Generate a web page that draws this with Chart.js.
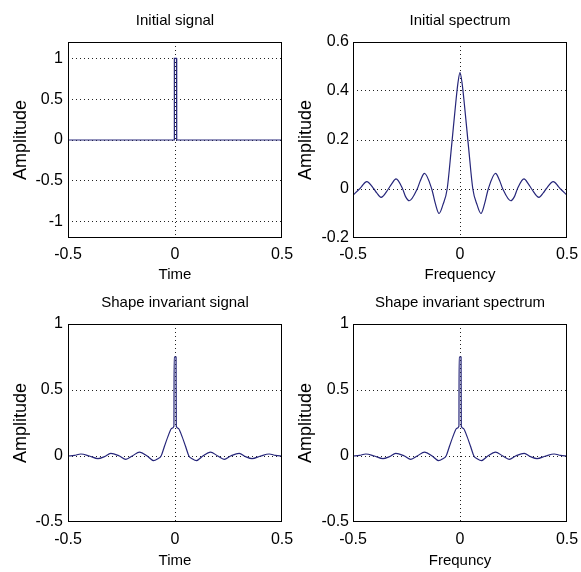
<!DOCTYPE html>
<html>
<head>
<meta charset="utf-8">
<script src="https://cdn.jsdelivr.net/npm/chart.js@4.4.1/dist/chart.umd.min.js"></script>
<style>
html, body { margin: 0; padding: 0; background: #fff; }
#wrap { position: relative; width: 581px; height: 572px; overflow: hidden; }
canvas { position: absolute; }
</style>
</head>
<body>
<div id="wrap">
    <canvas id="c1" width="300" height="290" style="left:0;top:0"></canvas>
    <canvas id="c3" width="300" height="282" style="left:0;top:290px"></canvas>
    <canvas id="c2" width="291" height="290" style="left:290px;top:0"></canvas>
    <canvas id="c4" width="291" height="282" style="left:290px;top:290px"></canvas>
</div>
<script>
// tick labels
const xTicks = [-0.5, 0, 0.5];
const sigYTicks = [-1, -0.5, 0, 0.5, 1];
const specYTicks = [-0.2, 0, 0.2, 0.4, 0.6];
const invYTicks = [-0.5, 0, 0.5, 1];

// initial signal (narrow pulse at 0)
const sigX = [-0.5, -0.004, -0.003, 0.007, 0.008, 0.5];
const sigY = [0, 0, 1, 1, 0, 0];

// initial spectrum
const specX = [-0.5, -0.47, -0.46, -0.436, -0.402, -0.39, -0.369, -0.335, -0.32, -0.299, -0.268, -0.255, -0.237, -0.2, -0.185, -0.166, -0.132, -0.115, -0.098, -0.08, -0.06, -0.04, -0.02, -0.01, 0,
    0.01, 0.02, 0.04, 0.06, 0.08, 0.098, 0.115, 0.132, 0.166, 0.185, 0.2, 0.237, 0.255, 0.268, 0.299, 0.32, 0.335, 0.369, 0.39, 0.402, 0.436, 0.46, 0.47, 0.5];
const specY = [-0.025, 0, 0.01, 0.03, 0, -0.015, -0.034, 0, 0.02, 0.041, 0, -0.03, -0.048, 0, 0.035, 0.064, 0, -0.06, -0.1, -0.065, 0, 0.17, 0.35, 0.43, 0.475,
    0.43, 0.35, 0.17, 0, -0.065, -0.1, -0.06, 0, 0.064, 0.035, 0, -0.048, -0.03, 0, 0.041, 0.02, 0, -0.034, -0.015, 0, 0.03, 0.01, 0, -0.025];

// shape invariant signal / spectrum
const invX = [-0.5, -0.47, -0.44, -0.4, -0.36, -0.33, -0.3, -0.26, -0.23, -0.2, -0.165, -0.13, -0.1, -0.08, -0.065, -0.05, -0.03, -0.015, -0.005, -0.004,
    0.005, 0.006, 0.015, 0.03, 0.05, 0.065, 0.08, 0.1, 0.13, 0.165, 0.2, 0.23, 0.26, 0.3, 0.33, 0.36, 0.4, 0.44, 0.47, 0.5];
const invSigY = [0, 0.005, 0.015, 0, -0.02, -0.005, 0.02, 0, -0.025, 0, 0.03, 0, -0.035, -0.02, 0, 0.07, 0.16, 0.21, 0.225, 0.75,
    0.75, 0.225, 0.21, 0.16, 0.07, 0, -0.02, -0.035, 0, 0.03, 0, -0.025, 0, 0.02, -0.005, -0.02, 0, 0.015, 0.005, 0];
const invSpecY = [0, 0.005, 0.015, 0, -0.02, -0.005, 0.02, 0, -0.025, 0, 0.03, 0, -0.035, -0.02, 0, 0.07, 0.16, 0.21, 0.225, 0.75,
    0.75, 0.225, 0.21, 0.16, 0.07, 0, -0.02, -0.035, 0, 0.03, 0, -0.025, 0, 0.02, -0.005, -0.02, 0, 0.015, 0.005, 0];

const lineColor = '#26267a';
Chart.defaults.font.family = '"Liberation Sans", Arial, Helvetica, sans-serif';
Chart.defaults.color = '#000';

// black frame round the plot area
const boxPlugin = {
    id: 'box',
    afterDatasetsDraw(chart) {
        const ctx = chart.ctx;
        const a = chart.chartArea;
        ctx.save();
        ctx.strokeStyle = '#000';
        ctx.lineWidth = 1;
        ctx.strokeRect(Math.round(a.left) + 0.5, Math.round(a.top) + 0.5,
            Math.round(a.right - a.left) - 1, Math.round(a.bottom - a.top) - 1);
        ctx.restore();
    }
};

const gridColor = c => (c.tick && (c.tick.value <= c.scale.min || c.tick.value >= c.scale.max)) ? 'rgba(0,0,0,0)' : '#222';

function makePanel(id, p) {
    return new Chart(document.getElementById(id), {
        type: 'line',
        data: {
            datasets: [{
                data: p.xs.map((x, i) => ({x: x, y: p.ys[i]})),
                borderColor: lineColor,
                borderWidth: 1.2,
                pointRadius: 0,
                fill: false,
                tension: 0,
                cubicInterpolationMode: p.smooth ? 'monotone' : 'default'
            }]
        },
        options: {
            responsive: false,
            animation: false,
            events: [],
            layout: { padding: { left: 0, top: 0, right: p.right, bottom: 0 } },
            plugins: {
                legend: { display: false },
                tooltip: { enabled: false },
                title: {
                    display: true,
                    fullSize: false,
                    text: p.title,
                    color: '#000',
                    font: { size: 15, weight: 'normal' },
                    padding: { top: p.tTop, bottom: p.tBottom }
                }
            },
            scales: {
                x: {
                    type: 'linear',
                    min: -0.5,
                    max: 0.5,
                    afterBuildTicks: s => { s.ticks = xTicks.map(v => ({value: v})); },
                    afterFit: s => { s.height = p.xH; s.paddingLeft = 0; s.paddingRight = 0; },
                    ticks: { autoSkip: false, maxRotation: 0, padding: p.xTickPad, font: { size: 16 }, callback: v => String(v) },
                    grid: { color: gridColor, drawTicks: false, lineWidth: 1 },
                    border: { display: false, dash: [1, 3] },
                    title: { display: true, text: p.xLabel, font: { size: 15 }, padding: { top: 0, bottom: p.xTitlePad } }
                },
                y: {
                    type: 'linear',
                    min: p.yMin,
                    max: p.yMax,
                    afterBuildTicks: s => { s.ticks = p.yTicks.map(v => ({value: v})); },
                    afterFit: s => { s.width = p.yW; s.paddingTop = 0; s.paddingBottom = 0; },
                    ticks: { autoSkip: false, padding: p.yTickPad, font: { size: 16 }, callback: v => String(v) },
                    grid: { color: gridColor, drawTicks: false, lineWidth: 1 },
                    border: { display: false, dash: [1, 3] },
                    title: { display: true, text: 'Amplitude', font: { size: 18 }, padding: { top: p.yTitlePad, bottom: 0 } }
                }
            }
        },
        plugins: [boxPlugin]
    });
}

makePanel('c1', {
    title: 'Initial signal', xLabel: 'Time', xs: sigX, ys: sigY, smooth: false,
    yMin: -1.2, yMax: 1.2, yTicks: sigYTicks,
    right: 18, yW: 68, xH: 52, tTop: 12, tBottom: 12, xTitlePad: 6.5, xTickPad: 7, yTickPad: 5, yTitlePad: 10
});

makePanel('c2', {
    title: 'Initial spectrum', xLabel: 'Frequency', xs: specX, ys: specY, smooth: true,
    yMin: -0.2, yMax: 0.6, yTicks: specYTicks,
    right: 14, yW: 63, xH: 52, tTop: 12, tBottom: 12, xTitlePad: 6.5, xTickPad: 7, yTickPad: 4, yTitlePad: 5
});

makePanel('c3', {
    title: 'Shape invariant signal', xLabel: 'Time', xs: invX, ys: invSigY, smooth: true,
    yMin: -0.5, yMax: 1, yTicks: invYTicks,
    right: 18, yW: 68, xH: 50, tTop: 3.5, tBottom: 12.5, xTitlePad: 2.5, xTickPad: 8, yTickPad: 5, yTitlePad: 10
});

makePanel('c4', {
    title: 'Shape invariant spectrum', xLabel: 'Frequncy', xs: invX, ys: invSpecY, smooth: true,
    yMin: -0.5, yMax: 1, yTicks: invYTicks,
    right: 14, yW: 63, xH: 50, tTop: 3.5, tBottom: 12.5, xTitlePad: 2.5, xTickPad: 8, yTickPad: 4, yTitlePad: 5
});
</script>
</body>
</html>
